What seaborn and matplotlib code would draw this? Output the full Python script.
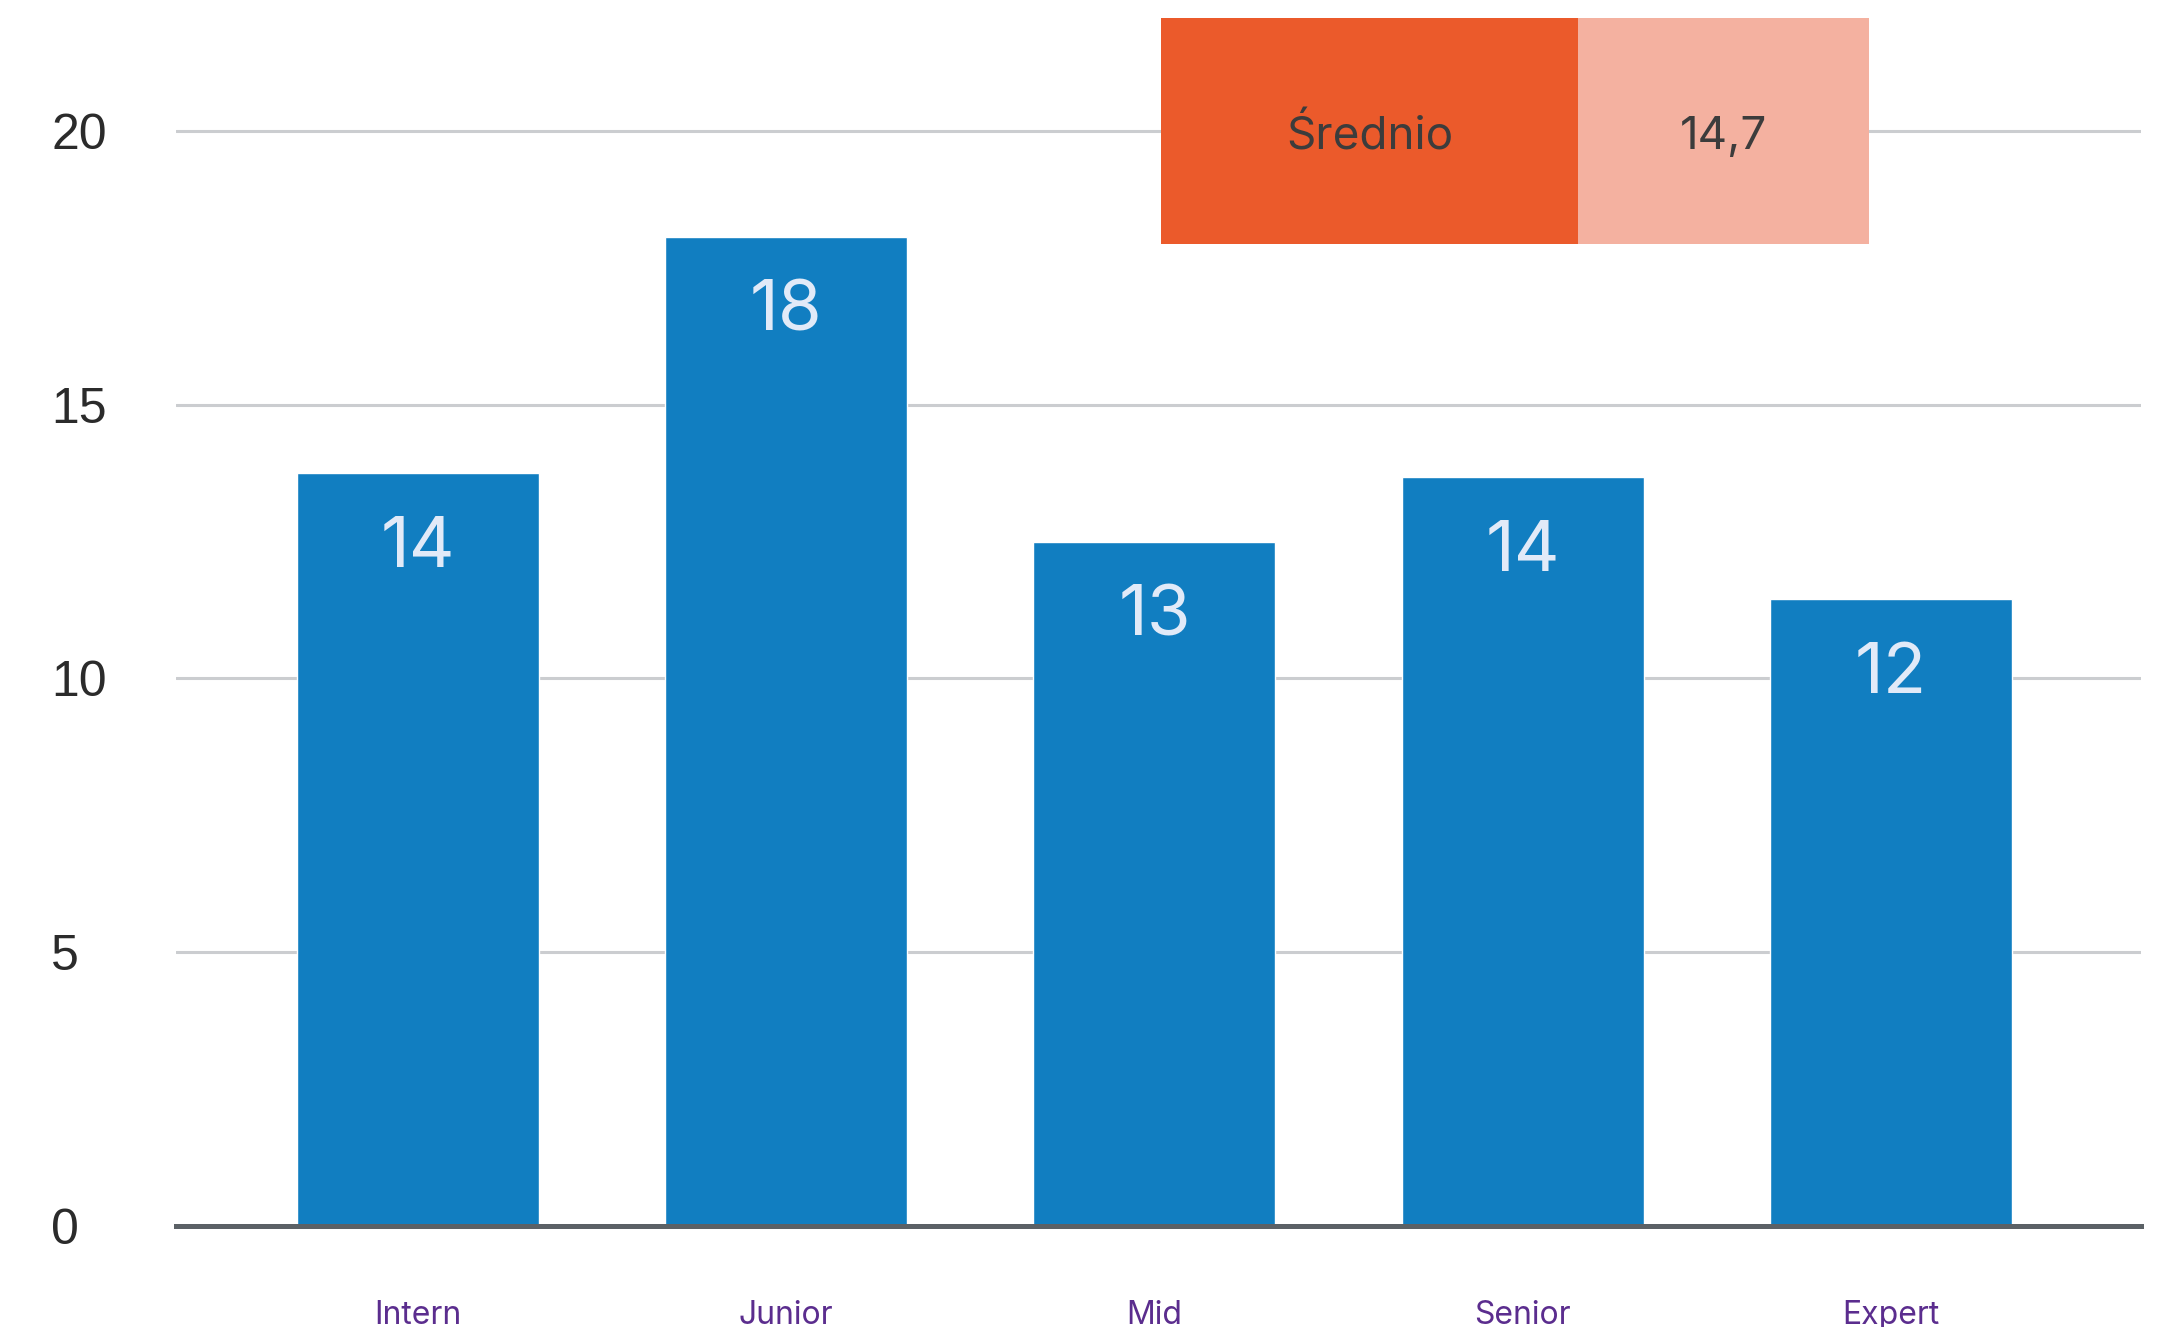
import matplotlib

matplotlib.use("Agg")
import matplotlib.pyplot as plt
import pandas as pd
import seaborn as sns
from matplotlib.patches import Rectangle

# data
levels = ["Intern", "Junior", "Mid", "Senior", "Expert"]
values = [13.75, 18.07, 12.49, 13.67, 11.45]
bar_labels = ["14", "18", "13", "14", "12"]
y_ticks = [0, 5, 10, 15, 20]
avg_label = "Średnio"
avg_value = "14,7"

sns.set_theme(style="white")
plt.rcParams["font.family"] = ["Inter", "DejaVu Sans"]

df = pd.DataFrame({"level": levels, "value": values})

fig = plt.figure(figsize=(21.57, 13.27), dpi=100)
ax = fig.add_axes([0.0816, 0.0761, 0.9108, 0.9239])

sns.barplot(data=df, x="level", y="value", color="#117ec1", saturation=1,
            width=0.657, ax=ax, zorder=2)

ax.set_xlim(-0.657, 4.678)
ax.set_ylim(0, 22.39)
ax.set_yticks(y_ticks)
ax.set_xlabel("")
ax.set_ylabel("")

# grid + baseline
ax.yaxis.grid(True, color="#cbcdd0", linewidth=2.2)
ax.set_axisbelow(True)
for side in ["top", "right", "left"]:
    ax.spines[side].set_visible(False)
ax.spines["bottom"].set_color("#5b6166")
ax.spines["bottom"].set_linewidth(3.6)
ax.spines["bottom"].set_zorder(3)

ax.tick_params(axis="both", length=0)
ax.tick_params(axis="y", pad=90, labelsize=36, labelcolor="#2b2b2b")
ax.tick_params(axis="x", pad=53, labelsize=23, labelcolor="#5b2d8e")
for lbl in ax.get_yticklabels():
    lbl.set_horizontalalignment("left")
    lbl.set_fontfamily(["Liberation Sans", "DejaVu Sans"])

# value labels inside bars
for i, (v, txt) in enumerate(zip(values, bar_labels)):
    ax.annotate(txt, xy=(i, v), xytext=(0, -54), textcoords="offset points",
                ha="center", va="center", fontsize=51, color="#e1eaf8", zorder=4)

# average box at the top
ax.add_patch(Rectangle((0.5013, 0.8012), 0.2123, 0.1841, transform=ax.transAxes,
                       facecolor="#eb5a2b", edgecolor="none", clip_on=False, zorder=5))
ax.add_patch(Rectangle((0.7136, 0.8012), 0.1481, 0.1841, transform=ax.transAxes,
                       facecolor="#f4b1a0", edgecolor="none", clip_on=False, zorder=5))
ax.text(0.60745, 0.8885, avg_label, transform=ax.transAxes, ha="center", va="center",
        fontsize=33, color="#3c3c3c", zorder=6)
ax.text(0.78765, 0.8885, avg_value, transform=ax.transAxes, ha="center", va="center",
        fontsize=33, color="#3c3c3c", zorder=6)

fig.savefig("out.png", dpi=100)
